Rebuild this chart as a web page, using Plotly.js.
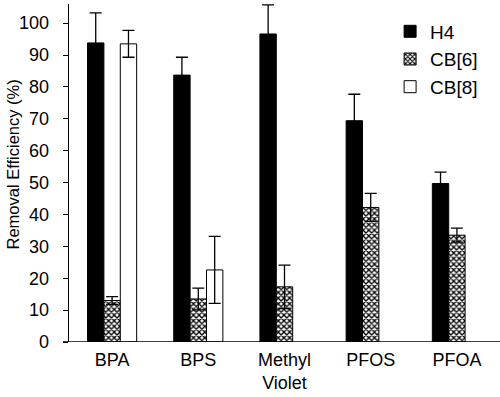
<!DOCTYPE html>
<html><head><meta charset="utf-8">
<script src="https://cdn.plot.ly/plotly-3.0.1.min.js"></script>
<style>html,body{margin:0;padding:0;background:#fff}#chart{width:500px;height:397px}</style>
</head><body><div id="chart"></div>
<script>
const categories = ["BPA", "BPS", "Methyl<br>Violet", "PFOS", "PFOA"];
const h4 = [93.8, 83.7, 96.6, 69.4, 49.7];
const h4Err = [9.4, 5.6, 9.1, 8.3, 3.6];
const cb6 = [13.0, 13.5, 17.3, 42.2, 33.5];
const cb6Err = [1.2, 3.4, 6.8, 4.4, 2.2];
const cb8 = [93.5, 22.6, null, null, null];
const cb8Err = [4.2, 10.5, null, null, null];
const yTitle = "Removal Efficiency (%)";

const fam = "Arial, Liberation Sans, sans-serif";
const errStyle = {type: "data", visible: true, color: "#000", thickness: 1.3, width: 6};

const traces = [
  {type: "bar", name: "H4", x: categories, y: h4,
   marker: {color: "#000", line: {color: "#000", width: 1}},
   error_y: Object.assign({array: h4Err}, errStyle)},
  {type: "bar", name: "CB[6]", x: categories, y: cb6,
   marker: {color: "#fff", line: {color: "#000", width: 1},
            pattern: {shape: "x", fgcolor: "#000", bgcolor: "#fff", size: 4, solidity: 0.55}},
   error_y: Object.assign({array: cb6Err}, errStyle)},
  {type: "bar", name: "CB[8]", x: categories, y: cb8,
   marker: {color: "#fff", line: {color: "#000", width: 1}},
   error_y: Object.assign({array: cb8Err}, errStyle)}
];

const layout = {
  width: 500, height: 397,
  margin: {l: 69, r: 0, t: 4, b: 55},
  paper_bgcolor: "#fff", plot_bgcolor: "#fff",
  font: {family: fam, size: 18, color: "#000"},
  barmode: "group", bargap: 0.43, bargroupgap: 0,
  showlegend: true,
  legend: {x: 0.745, y: 0.975, xanchor: "left", yanchor: "top",
           font: {family: fam, size: 19, color: "#000"},
           bgcolor: "rgba(0,0,0,0)", tracegroupgap: 0, itemwidth: 30},
  xaxis: {type: "category", range: [-0.5, 4.5], showline: false, ticks: "",
          showgrid: false, zeroline: false,
          tickfont: {family: fam, size: 18, color: "#000"}, ticklabelstandoff: 5},
  yaxis: {range: [0, 106], dtick: 10, tick0: 0, showline: true, linecolor: "#000", linewidth: 1.3,
          ticks: "outside", ticklen: 5, tickwidth: 1, tickcolor: "#000",
          showgrid: false, zeroline: false,
          tickfont: {family: fam, size: 18, color: "#000"}, ticklabelstandoff: 10},
  annotations: [{text: yTitle, xref: "paper", yref: "paper", x: -0.13, y: 0.525,
                 xanchor: "center", yanchor: "middle", textangle: -90, showarrow: false,
                 font: {family: fam, size: 16.5, color: "#000"}}],
  shapes: [{type: "line", xref: "paper", yref: "y", x0: -0.014, x1: 1, y0: 0, y1: 0,
            line: {color: "#000", width: 1.5}}]
};

Plotly.newPlot("chart", traces, layout, {staticPlot: true, displayModeBar: false});
</script></body></html>
